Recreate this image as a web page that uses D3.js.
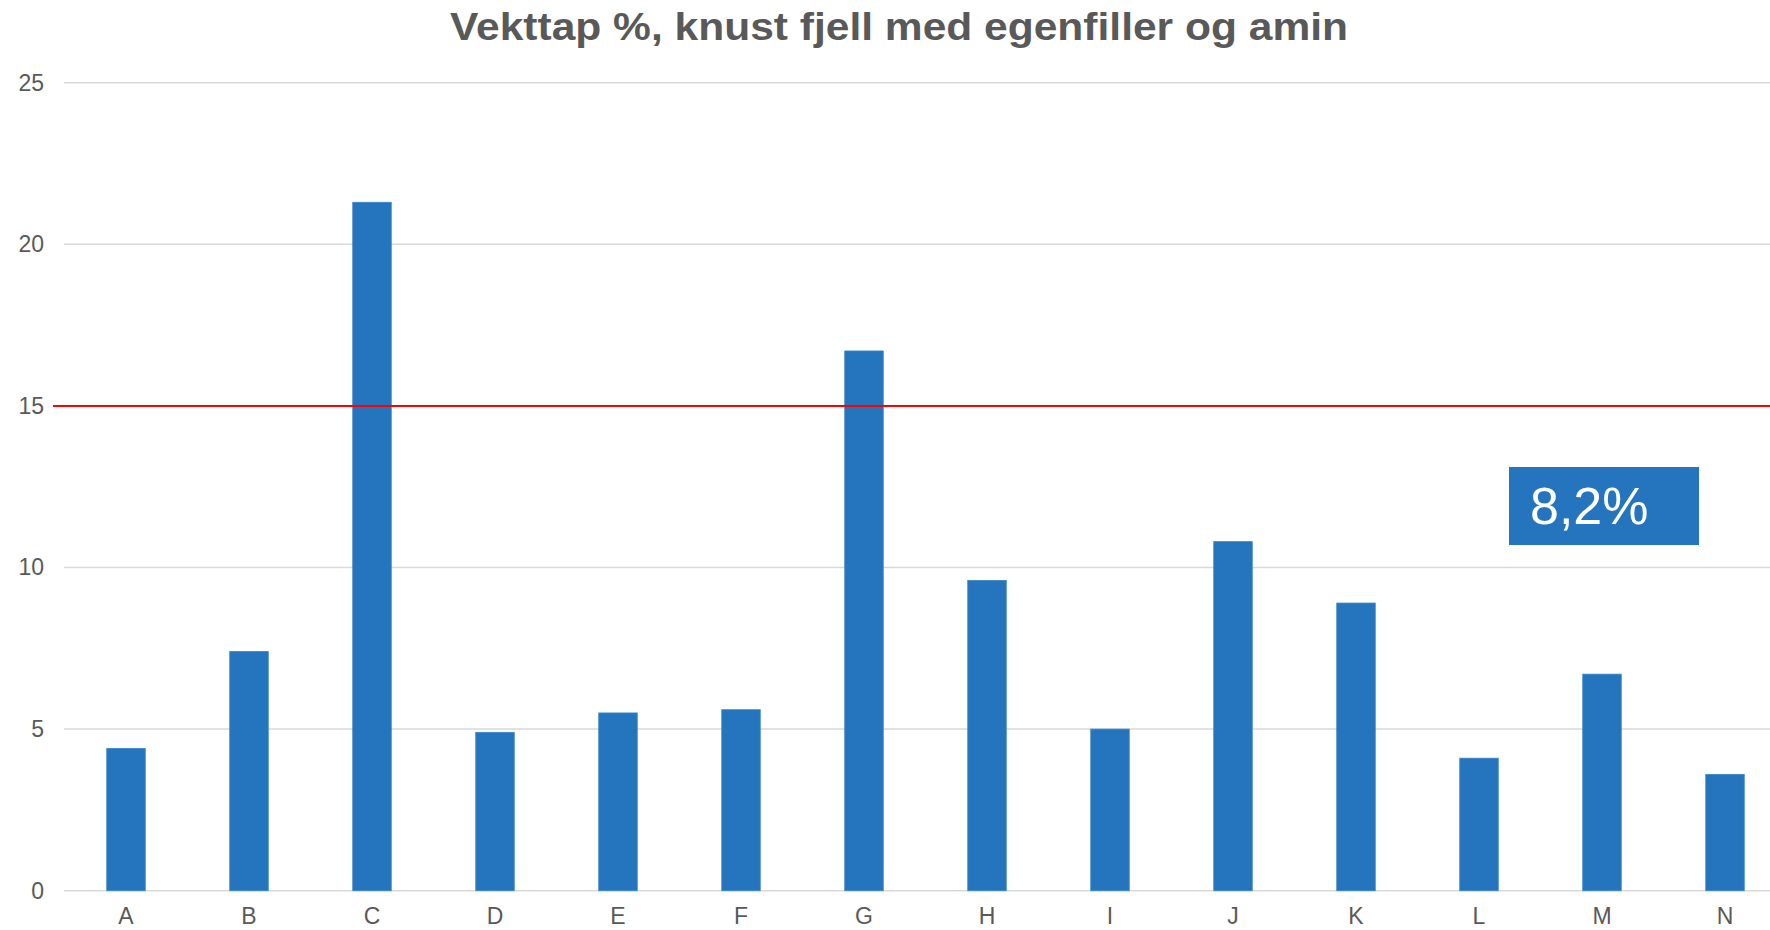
<!DOCTYPE html>
<html>
<head>
<meta charset="utf-8">
<script src="https://cdn.jsdelivr.net/npm/d3@7"></script>
<style>
  body { margin: 0; background: #fff; }
  text { font-family: "Liberation Sans", Arial, sans-serif; }
</style>
</head>
<body>
<div id="chart"></div>
<script>
// data
var categories = ["A","B","C","D","E","F","G","H","I","J","K","L","M","N"];
var values = [4.4, 7.4, 21.3, 4.9, 5.5, 5.6, 16.7, 9.6, 5.0, 10.8, 8.9, 4.1, 6.7, 3.6];
var yTicks = [0, 5, 10, 15, 20, 25];
var limitValue = 15;
var boxLabel = "8,2%";
var title = "Vekttap %, knust fjell med egenfiller og amin";

var width = 1770, height = 930;

var svg = d3.select("#chart")
  .append("svg")
    .attr("width", width)
    .attr("height", height);

// scales (chart continues past the right edge of the picture)
var x = d3.scaleBand()
  .domain(categories)
  .range([64.5, 1786.5])
  .paddingInner(0.687)
  .paddingOuter(0.687 / 2);

var y = d3.scaleLinear()
  .domain([0, 25])
  .range([890.7, 82.7]);

// title
svg.append("text")
  .attr("x", 450)
  .attr("y", 40)
  .attr("textLength", 898)
  .attr("lengthAdjust", "spacingAndGlyphs")
  .style("font-size", "38px")
  .style("font-weight", "bold")
  .style("fill", "#595959")
  .text(title);

// gridlines
svg.append("g")
  .selectAll("line")
  .data(yTicks)
  .enter()
  .append("line")
    .attr("x1", 64)
    .attr("x2", width)
    .attr("y1", function(d) { return y(d); })
    .attr("y2", function(d) { return y(d); })
    .attr("stroke", "#d9d9d9")
    .attr("stroke-width", 1.5);

// Y axis labels
var yAxis = svg.append("g")
  .attr("transform", "translate(44,0)")
  .call(d3.axisLeft(y).tickValues(yTicks).tickSize(0).tickPadding(0));
yAxis.select(".domain").remove();
yAxis.selectAll("text")
  .style("font-size", "23px")
  .style("fill", "#595959")
  .style("font-family", "'Liberation Sans', Arial, sans-serif");

// X axis labels
var xAxis = svg.append("g")
  .attr("transform", "translate(0," + y(0) + ")")
  .call(d3.axisBottom(x).tickSize(0).tickPadding(17));
xAxis.select(".domain").remove();
xAxis.selectAll("text")
  .style("font-size", "23px")
  .style("fill", "#595959")
  .style("font-family", "'Liberation Sans', Arial, sans-serif");

// bars
svg.selectAll("rect.bar")
  .data(values)
  .enter()
  .append("rect")
    .attr("class", "bar")
    .attr("x", function(d, i) { return x(categories[i]); })
    .attr("y", function(d) { return y(d); })
    .attr("width", x.bandwidth())
    .attr("height", function(d) { return y(0) - y(d); })
    .attr("fill", "#2475bd")
    .attr("stroke", "#3a84c6")
    .attr("stroke-width", 0.8);

// limit line
svg.append("line")
  .attr("x1", 53)
  .attr("x2", width)
  .attr("y1", y(limitValue))
  .attr("y2", y(limitValue))
  .attr("stroke", "#ff0000")
  .attr("stroke-width", 2);

// label box
var box = svg.append("g").attr("transform", "translate(1509,467)");
box.append("rect")
  .attr("width", 190)
  .attr("height", 78)
  .attr("fill", "#2475bd");
box.append("text")
  .attr("x", 21)
  .attr("y", 57)
  .style("font-size", "52px")
  .style("fill", "#ffffff")
  .text(boxLabel);
</script>
</body>
</html>
